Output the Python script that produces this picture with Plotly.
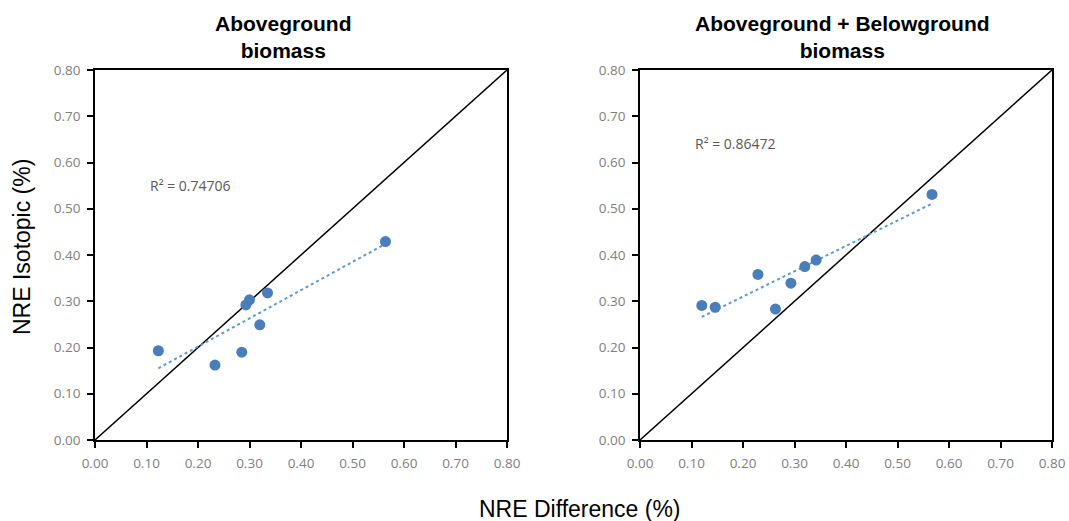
import numpy as np
import plotly.graph_objects as go

# Data
above_x = [0.123, 0.233, 0.285, 0.293, 0.300, 0.320, 0.335, 0.564]
above_y = [0.193, 0.162, 0.190, 0.292, 0.303, 0.249, 0.318, 0.429]
both_x = [0.120, 0.146, 0.229, 0.263, 0.293, 0.320, 0.342, 0.567]
both_y = [0.291, 0.287, 0.358, 0.283, 0.339, 0.375, 0.389, 0.531]
r2_labels = ["R² = 0.74706", "R² = 0.86472"]
titles = ["<b>Aboveground<br>biomass</b>", "<b>Aboveground + Belowground<br>biomass</b>"]
tick_vals = [0.0, 0.1, 0.2, 0.3, 0.4, 0.5, 0.6, 0.7, 0.8]
tick_text = ["0.00", "0.10", "0.20", "0.30", "0.40", "0.50", "0.60", "0.70", "0.80"]
one_to_one = [0.0, 0.8]

W, H = 1069, 521


def px(x):
    return x / W


def py(y):
    return 1 - y / H


xdoms = [[px(95), px(507)], [px(640), px(1052)]]
ydom = [py(440), py(70)]

fig = go.Figure()
marker_color = "#4a7ebb"
trend_color = "#5b9bd5"

for i, (xs, ys) in enumerate([(above_x, above_y), (both_x, both_y)]):
    xa = "x" if i == 0 else "x2"
    ya = "y" if i == 0 else "y2"
    fig.add_trace(go.Scatter(x=one_to_one, y=one_to_one, mode="lines",
                             line=dict(color="#000000", width=1.5),
                             xaxis=xa, yaxis=ya, showlegend=False, hoverinfo="skip"))
    m, b = np.polyfit(xs, ys, 1)
    tx = [min(xs), max(xs)]
    ty = [m * v + b for v in tx]
    fig.add_trace(go.Scatter(x=tx, y=ty, mode="lines",
                             line=dict(color=trend_color, width=2, dash="dot"),
                             xaxis=xa, yaxis=ya, showlegend=False))
    fig.add_trace(go.Scatter(x=xs, y=ys, mode="markers",
                             marker=dict(color=marker_color, size=11),
                             xaxis=xa, yaxis=ya, showlegend=False))

axis_common = dict(range=[0, 0.8], tickvals=tick_vals, ticktext=tick_text,
                   showgrid=False, zeroline=False, showline=True, linecolor="#000000",
                   linewidth=1.5, mirror=True, ticks="outside", ticklen=6,
                   tickcolor="#000000", tickwidth=1.5, automargin=False,
                   ticklabelstandoff=4,
                   tickfont=dict(family="Open Sans", size=13.5, color="#808080"))

fig.update_layout(
    width=W, height=H, autosize=False,
    margin=dict(l=0, r=0, t=0, b=0),
    plot_bgcolor="white", paper_bgcolor="white",
    xaxis=dict(domain=xdoms[0], anchor="y", **axis_common),
    yaxis=dict(domain=ydom, anchor="x", **axis_common),
    xaxis2=dict(domain=xdoms[1], anchor="y2", **axis_common),
    yaxis2=dict(domain=ydom, anchor="x2", **axis_common),
)

annotations = []
title_x = [px(283), px(842)]
for i in range(2):
    annotations.append(dict(text=titles[i], x=title_x[i], y=py(37), xref="paper", yref="paper",
                            showarrow=False, xanchor="center", yanchor="middle",
                            font=dict(family="Liberation Sans", size=21, color="#000000")))
r2_pos = [(0.103, 0.55), (0.103, 0.64)]
for i in range(2):
    annotations.append(dict(text=r2_labels[i], x=r2_pos[i][0], y=r2_pos[i][1],
                            xref="x" if i == 0 else "x2", yref="y" if i == 0 else "y2",
                            showarrow=False, xanchor="left", yanchor="middle",
                            font=dict(family="Open Sans", size=14, color="#595959")))
annotations.append(dict(text="NRE Isotopic (%)", x=px(22), y=py(247), xref="paper", yref="paper",
                        showarrow=False, textangle=-90, xanchor="center", yanchor="middle",
                        font=dict(family="Liberation Sans", size=23, color="#000000")))
annotations.append(dict(text="NRE Difference (%)", x=px(580), y=py(509), xref="paper", yref="paper",
                        showarrow=False, xanchor="center", yanchor="middle",
                        font=dict(family="Liberation Sans", size=23, color="#000000")))
fig.update_layout(annotations=annotations)

fig.write_html("out.html",
               config={"displayModeBar": False},
               post_script="document.body.style.margin='0';document.body.style.overflow='hidden';")
